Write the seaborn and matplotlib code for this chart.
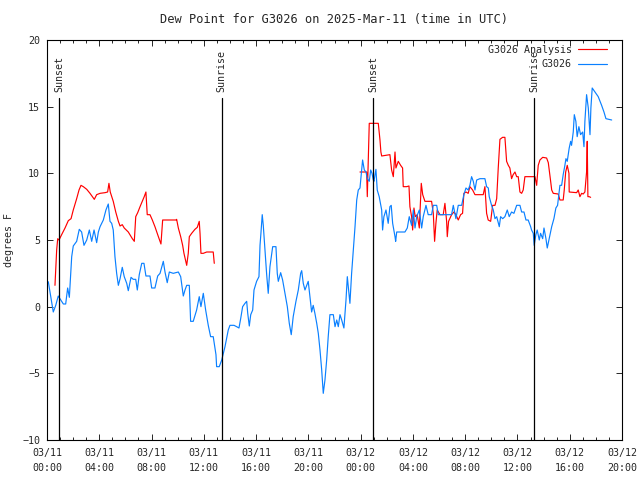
import numpy as np
import pandas as pd
import matplotlib
matplotlib.use("Agg")
import matplotlib.pyplot as plt
from matplotlib.lines import Line2D
from matplotlib.ticker import MultipleLocator
import seaborn as sns

# hours since 2025-03-11 00:00 UTC
obs_hours = [
    0.10, 0.48, 0.67, 0.86, 0.99, 1.25, 1.43, 1.58, 1.71, 1.89, 2.01, 2.27, 2.47, 2.65, 2.83,
    3.04, 3.24, 3.42, 3.60, 3.80, 3.93, 4.06, 4.31, 4.51, 4.69, 4.82, 4.95, 5.07, 5.20, 5.33,
    5.46, 5.59, 5.76, 5.91, 6.10, 6.22, 6.43, 6.60, 6.79, 6.91, 7.06, 7.25, 7.42, 7.57, 7.88,
    8.01, 8.26, 8.47, 8.65, 8.90, 9.03, 9.20, 9.36, 9.66, 10.05, 10.23, 10.43, 10.56, 10.69, 10.89,
    10.99, 11.19, 11.45, 11.65, 11.78, 11.96, 12.14, 12.34, 12.52, 12.72, 12.93, 12.98, 13.18, 13.37, 13.62,
    13.87, 14.00, 14.31, 14.51, 14.69, 14.82, 14.97, 15.15, 15.28, 15.36, 15.48, 15.59, 15.74, 15.84, 16.04,
    16.22, 16.30, 16.37, 16.47, 16.55, 16.68, 16.81, 16.93, 17.06, 17.27, 17.52, 17.62, 17.70, 17.88, 18.03,
    18.21, 18.39, 18.54, 18.69, 18.84, 19.05, 19.23, 19.41, 19.49, 19.61, 19.74, 19.87, 19.99, 20.12, 20.25,
    20.37, 20.50, 20.64, 20.76, 20.89, 21.02, 21.14, 21.27, 21.40, 21.52, 21.65, 21.91, 22.04, 22.17, 22.29,
    22.42, 22.55, 22.72, 22.88, 22.98, 23.08, 23.18, 23.31, 23.44, 23.57, 23.70, 23.82, 23.95, 24.08, 24.15,
    24.28, 24.41, 24.51, 24.66, 24.77, 24.87, 24.97, 25.02, 25.17, 25.27, 25.42, 25.61, 25.68, 25.78, 25.94,
    26.11, 26.24, 26.34, 26.45, 26.63, 26.68, 26.76, 27.39, 27.57, 27.72, 27.90, 28.03, 28.16, 28.29, 28.49,
    28.67, 28.79, 29.00, 29.17, 29.43, 29.56, 29.82, 29.94, 30.20, 30.96, 31.09, 31.29, 31.47, 31.73, 31.90,
    32.06, 32.23, 32.36, 32.49, 32.62, 32.75, 32.88, 33.13, 33.51, 33.64, 33.77, 33.84, 34.02, 34.15, 34.28,
    34.41, 34.61, 34.71, 34.87, 35.04, 35.22, 35.37, 35.55, 35.73, 35.94, 36.19, 36.32, 36.50, 36.65, 36.82,
    37.01, 37.08, 37.21, 37.28, 37.41, 37.51, 37.67, 37.77, 37.93, 38.03, 38.18, 38.28, 38.43, 38.62, 38.79,
    38.94, 39.07, 39.25, 39.38, 39.50, 39.63, 39.71, 39.81, 39.96, 40.07, 40.14, 40.27, 40.35, 40.47, 40.57,
    40.70, 40.83, 40.99, 41.09, 41.16, 41.29, 41.42, 41.55, 41.62, 41.72, 41.93, 42.18, 42.44, 42.62, 42.77,
    43.21,
]
obs_dewpt = [
    1.87, -0.4, 0.1, 0.8, 0.6, 0.2, 0.2, 1.4, 0.7, 3.75, 4.55, 4.9, 5.8, 5.6, 4.6,
    5.0, 5.75, 4.9, 5.75, 4.8, 5.6, 6.0, 6.5, 7.25, 7.7, 6.4, 6.25, 5.75, 3.75, 2.5,
    1.6, 2.1, 2.95, 2.25, 1.75, 1.2, 2.2, 2.05, 2.05, 1.25, 2.4, 3.25, 3.25, 2.3, 2.3,
    1.4, 1.4, 2.3, 2.5, 3.4, 2.6, 1.8, 2.6, 2.5, 2.6, 2.25, 0.8, 1.25, 1.6, 1.6,
    -1.1, -1.1, -0.25, 0.75, 0.0, 1.0, -0.25, -1.4, -2.25, -2.25, -3.6, -4.5, -4.5, -4.0, -3.0,
    -1.75, -1.4, -1.4, -1.5, -1.6, -0.9, 0.0, 0.25, 0.4, -0.5, -1.45, -0.6, -0.25, 1.25, 1.9,
    2.25, 4.6, 5.5, 6.9, 6.1, 4.25, 2.4, 1.0, 3.0, 4.5, 4.5, 2.5, 1.9, 2.55, 2.0,
    1.0, 0.0, -1.25, -2.1, -0.75, 0.4, 1.25, 2.5, 2.7, 1.75, 1.25, 1.6, 1.9, 0.75, -0.4,
    0.1, -0.5, -1.25, -2.0, -3.25, -4.75, -6.5, -5.5, -4.0, -2.25, -0.6, -0.6, -1.5, -1.0, -1.5,
    -0.6, -1.0, -1.6, 0.5, 2.25, 1.25, 0.25, 2.5, 4.25, 6.0, 8.0, 8.75, 8.9, 10.25, 11.0,
    10.25, 10.1, 9.6, 9.4, 10.25, 10.0, 9.5, 9.4, 10.3, 8.75, 8.25, 7.25, 5.75, 6.75, 7.25,
    6.25, 7.5, 7.6, 6.25, 5.25, 4.9, 5.6, 5.6, 5.9, 6.75, 6.1, 7.25, 5.9, 6.75, 7.25,
    5.9, 6.75, 7.6, 6.9, 6.9, 7.6, 7.6, 6.9, 6.9, 6.9, 7.6, 6.6, 7.6, 7.6, 8.4,
    8.9, 8.75, 9.1, 9.75, 9.4, 8.75, 9.5, 9.6, 9.6, 9.0, 8.9, 8.25, 7.6, 7.25, 6.6,
    6.75, 6.0, 6.75, 6.6, 6.75, 7.25, 6.75, 7.1, 7.0, 7.6, 7.6, 7.1, 7.1, 6.5, 6.5,
    6.0, 5.75, 5.5, 4.6, 5.4, 5.75, 5.0, 5.5, 5.1, 5.9, 5.1, 4.4, 5.1, 6.0, 6.6,
    7.4, 7.6, 9.1, 9.1, 9.9, 10.6, 11.1, 10.9, 11.9, 12.4, 12.1, 13.1, 14.4, 13.9, 12.75,
    13.5, 12.9, 13.1, 12.0, 13.9, 15.9, 14.9, 12.9, 14.9, 16.4, 16.1, 15.75, 15.1, 14.6, 14.1,
    14.0,
]

# analysis, first stretch
ana1_hours = [
    0.61, 0.74, 0.82, 0.92, 1.12, 1.38, 1.63, 1.84, 2.01, 2.27, 2.45, 2.60, 2.78, 3.04, 3.29,
    3.62, 3.80, 4.06, 4.44, 4.64, 4.74, 4.84, 5.07, 5.26, 5.46, 5.59, 5.76, 5.91, 6.22, 6.53,
    6.68, 6.79, 6.94, 7.12, 7.29, 7.44, 7.57, 7.67, 7.88, 8.06, 8.26, 8.47, 8.72, 8.85, 9.87,
    9.92, 10.05, 10.23, 10.38, 10.48, 10.69, 10.81, 10.89, 11.07, 11.32, 11.50, 11.65, 11.71, 11.78, 11.96,
    12.22, 12.72, 12.80,
]
ana1_dewpt = [
    1.6, 4.25, 5.1, 5.0, 5.4, 5.9, 6.45, 6.6, 7.25, 8.1, 8.75, 9.1, 9.0, 8.8, 8.5,
    8.05, 8.4, 8.5, 8.55, 8.6, 9.25, 8.6, 7.9, 7.1, 6.4, 6.05, 6.15, 5.9, 5.6, 5.1,
    4.9, 6.75, 7.05, 7.5, 7.9, 8.25, 8.6, 6.9, 6.9, 6.5, 6.0, 5.4, 4.7, 6.5, 6.5,
    6.55, 5.9, 5.25, 4.6, 4.0, 3.1, 4.0, 5.25, 5.5, 5.8, 5.95, 6.4, 5.5, 4.0, 4.0,
    4.1, 4.1, 3.25,
]

# analysis, second stretch
ana2_hours = [
    23.95, 24.46, 24.51, 24.56, 24.66, 25.35, 25.48, 25.55, 25.61, 26.24, 26.37, 26.50, 26.63, 26.70, 26.88,
    27.06, 27.21, 27.26, 27.52, 27.70, 27.77, 27.90, 27.98, 28.08, 28.18, 28.33, 28.49, 28.64, 28.75, 28.92,
    29.43, 29.56, 29.66, 29.76, 29.86, 30.07, 30.32, 30.45, 30.58, 30.63, 30.73, 30.96, 31.14, 31.29, 31.47,
    31.65, 31.80, 31.90, 32.06, 32.23, 32.36, 32.57, 32.75, 33.38, 33.51, 33.64, 33.76, 33.95, 34.10, 34.28,
    34.41, 34.53, 34.66, 34.86, 35.04, 35.17, 35.30, 35.42, 35.55, 35.67, 35.81, 35.94, 36.06, 36.19, 36.32,
    36.44, 36.57, 37.34, 37.47, 37.52, 37.59, 37.72, 37.93, 38.23, 38.36, 38.54, 38.62, 38.74, 39.12, 39.25,
    39.50, 39.58, 39.69, 39.81, 39.94, 39.96, 40.53, 40.65, 40.78, 40.91, 41.03, 41.16, 41.29, 41.34, 41.39,
    41.49, 41.60,
]
ana2_dewpt = [
    10.1, 10.1, 8.25, 10.1, 13.75, 13.75, 12.5, 11.6, 11.3, 11.4, 10.25, 9.75, 11.6, 10.4, 10.9,
    10.6, 10.4, 9.0, 9.0, 9.05, 7.5, 6.75, 5.75, 7.4, 6.75, 6.9, 5.9, 9.25, 8.4, 7.9,
    7.9, 7.0, 4.9, 6.25, 7.25, 6.9, 6.9, 7.75, 6.4, 5.25, 6.4, 6.9, 7.1, 6.9, 6.5,
    6.9, 7.0, 8.5, 8.6, 8.5, 9.0, 8.75, 8.4, 8.4, 9.0, 7.0, 6.5, 6.4, 7.6, 7.6,
    8.1, 10.4, 12.55, 12.7, 12.7, 10.9, 10.6, 10.4, 9.6, 9.9, 10.1, 9.75, 9.75, 8.6, 8.5,
    8.75, 9.75, 9.75, 9.1, 9.75, 10.6, 11.0, 11.2, 11.15, 10.8, 9.4, 8.75, 8.5, 8.45, 8.0,
    8.0, 8.75, 10.1, 10.6, 10.0, 8.6, 8.55, 8.75, 8.25, 8.5, 8.45, 8.6, 10.1, 12.4, 8.25,
    8.25, 8.2,
]

sun_hours = [0.94, 13.37, 24.97, 37.28]
sun_labels = ["Sunset", "Sunrise", "Sunset", "Sunrise"]

tick_hours = [0, 4, 8, 12, 16, 20, 24, 28, 32, 36, 40, 44]
tick_labels = ["03/11\n00:00", "03/11\n04:00", "03/11\n08:00", "03/11\n12:00",
               "03/11\n16:00", "03/11\n20:00", "03/12\n00:00", "03/12\n04:00",
               "03/12\n08:00", "03/12\n12:00", "03/12\n16:00", "03/12\n20:00"]

RED = "#ff0000"
BLUE = "#0a80ff"

sns.set_style("white")
plt.rcParams["font.family"] = ["DejaVu Sans Mono"]
plt.rcParams["font.size"] = 7.2

obs = pd.DataFrame({"hour": obs_hours, "dewpt": obs_dewpt})
ana1 = pd.DataFrame({"hour": ana1_hours, "dewpt": ana1_dewpt})
ana2 = pd.DataFrame({"hour": ana2_hours, "dewpt": ana2_dewpt})

fig = plt.figure(figsize=(6.4, 4.8), dpi=100)
ax = fig.add_axes([47 / 640, 40 / 480, 575 / 640, 400 / 480])

lw = 0.85
sns.lineplot(data=ana1, x="hour", y="dewpt", ax=ax, color=RED, lw=lw,
             sort=False, estimator=None)
sns.lineplot(data=ana2, x="hour", y="dewpt", ax=ax, color=RED, lw=lw,
             sort=False, estimator=None)
sns.lineplot(data=obs, x="hour", y="dewpt", ax=ax, color=BLUE, lw=lw,
             sort=False, estimator=None)

for h, lab in zip(sun_hours, sun_labels):
    ax.axvline(h, ymin=0, ymax=0.855, color="black", lw=0.9)
    ax.text(h, 0.87, lab, rotation=90, ha="center", va="bottom",
            transform=ax.get_xaxis_transform())

ax.set_xlim(0, 44)
ax.set_ylim(-10, 20)
ax.set_xticks(tick_hours)
ax.set_xticklabels(tick_labels, linespacing=1.6)
ax.xaxis.set_minor_locator(MultipleLocator(1))
ax.set_yticks(range(-10, 21, 5))

ax.tick_params(which="major", direction="in", length=4, width=0.7,
               top=True, right=True, bottom=True, left=True, pad=6)
ax.tick_params(axis="y", which="major", pad=5)
ax.tick_params(which="minor", direction="in", length=2.2, width=0.7,
               top=True, bottom=True)
for s in ax.spines.values():
    s.set_linewidth(0.8)
    s.set_color("black")

ax.set_xlabel("")
ax.set_ylabel("degrees F", labelpad=6)
ax.set_title("Dew Point for G3026 on 2025-Mar-11 (time in UTC)", pad=12)

handles = [Line2D([], [], color=RED, lw=lw), Line2D([], [], color=BLUE, lw=lw)]
ax.legend(handles, ["G3026 Analysis", "G3026"], loc="upper right",
          bbox_to_anchor=(1 - 10 / 575, 1.0), frameon=False, markerfirst=False,
          handlelength=2.9, handletextpad=0.6, labelspacing=0.45, borderpad=0.5,
          borderaxespad=0.0)

fig.savefig("out.png", dpi=100)
